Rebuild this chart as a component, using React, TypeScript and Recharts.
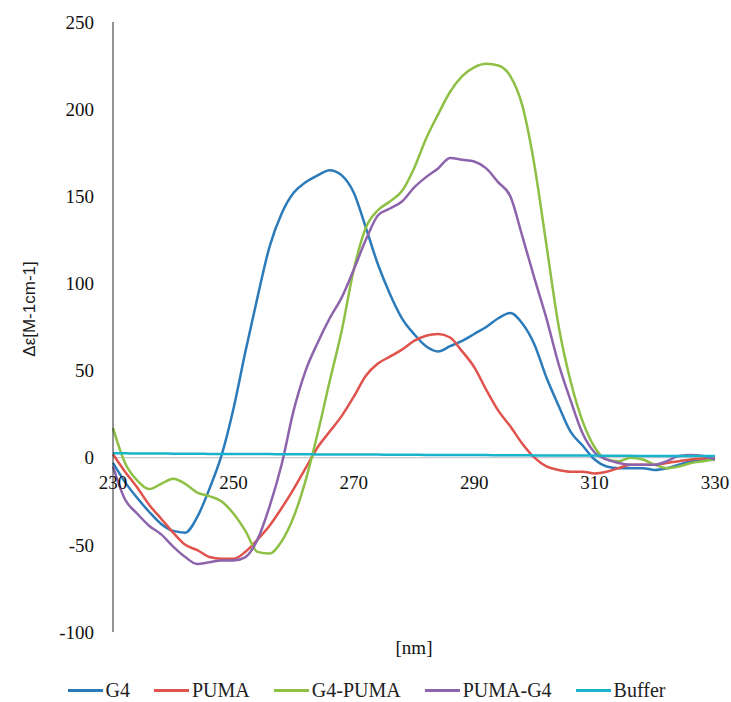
import React from "react";
import { LineChart, Line, XAxis, YAxis, ReferenceLine, Legend } from "recharts";

const wavelengths = [
  230, 232, 234, 236, 238, 240, 242, 244, 246, 248,
  250, 252, 254, 256, 258, 260, 262, 264, 266, 268,
  270, 272, 274, 276, 278, 280, 282, 284, 286, 288,
  290, 292, 294, 296, 298, 300, 302, 304, 306, 308,
  310, 312, 314, 316, 318, 320, 322, 324, 326, 328,
  330,
];

const g4 = [
  -3, -14, -23, -31, -38, -42, -43, -34, -18, 1,
  28, 61, 92, 121, 140, 152, 158, 162, 165, 162,
  152, 132, 111, 94, 80, 71, 64, 61, 64, 67,
  71, 75, 80, 83, 77, 65, 46, 30, 15, 7,
  -1, -5, -6, -6, -6, -7, -6, -4, -2, -1,
  -0.5,
];

const puma = [
  2, -8, -17, -27, -35, -43, -50, -53, -57, -58,
  -58, -54, -47, -39, -29, -18, -6, 6, 15, 24,
  35, 47, 54, 58, 62, 67, 70, 71, 69, 61,
  52, 39, 27, 18, 8, 0, -5, -7, -8, -8,
  -9, -8, -6, -4, -4, -4, -3, -2, -1, -0.5,
  0,
];

const g4Puma = [
  17, -3, -13, -18, -15, -12, -15, -20, -22, -25,
  -32, -42, -54, -55, -48, -34, -13, 14, 44, 73,
  108, 132, 142, 147, 153, 166, 183, 197, 210, 219,
  224, 226, 225, 219, 202, 168, 122, 76, 44, 21,
  6, -1, -2, 0, -1, -4, -6, -5, -3, -2,
  -1,
];

const pumaG4 = [
  -5, -24, -32, -39, -44, -51, -57, -61, -60, -59,
  -59, -57, -47, -28, -4, 27, 50, 66, 80, 92,
  108, 125, 139, 143, 147, 155, 161, 166, 172, 171,
  170, 166, 158, 150, 127, 103, 80, 54, 33, 14,
  3, -1, -3, -4, -4, -4, -2, 1, 1.5, 1,
  -1,
];

const buffer = [
  2.5, 2.5, 2.4, 2.4, 2.4, 2.3, 2.3, 2.3, 2.2, 2.2,
  2.2, 2.1, 2.1, 2.1, 2.0, 2.0, 2.0, 1.9, 1.9, 1.9,
  1.8, 1.8, 1.8, 1.7, 1.7, 1.7, 1.6, 1.6, 1.6, 1.5,
  1.5, 1.5, 1.4, 1.4, 1.4, 1.3, 1.3, 1.3, 1.2, 1.2,
  1.2, 1.1, 1.1, 1.1, 1.0, 1.0, 1.0, 1.0, 1.0, 1.0,
  1.0,
];

const xTicks = [230, 250, 270, 290, 310, 330];
const yTicks = [-100, -50, 0, 50, 100, 150, 200, 250];

const seriesNames = ["G4", "PUMA", "G4-PUMA", "PUMA-G4", "Buffer"];
const seriesColors = ["#2b7bba", "#e0524c", "#8dc044", "#8d64ac", "#1ab3cc"];
const seriesValues = [g4, puma, g4Puma, pumaG4, buffer];

const data = wavelengths.map((nm, i) => {
  const row: Record<string, number> = { nm };
  seriesNames.forEach((name, k) => {
    row[name] = seriesValues[k][i];
  });
  return row;
});

const SERIF = '"Liberation Serif", "Times New Roman", serif';
const SANS = '"Liberation Sans", Arial, sans-serif';

const XTick = (props: any) => {
  const { x, y, payload } = props;
  return (
    <text
      x={x}
      y={y - 150}
      textAnchor="middle"
      dominantBaseline="central"
      fontFamily={SERIF}
      fontSize={19}
      fill="#111"
    >
      {payload.value}
    </text>
  );
};

const YLabel = () => (
  <text
    x={29}
    y={309}
    transform="rotate(-90 29 309)"
    textAnchor="middle"
    dominantBaseline="central"
    fontFamily={SANS}
    fontSize={17}
    fill="#1a1a1a"
  >
    Δε[M-1cm-1]
  </text>
);

const renderLegend = () => (
  <div
    style={{
      width: 731,
      height: 24,
      display: "flex",
      justifyContent: "center",
      alignItems: "center",
      gap: 24,
      paddingLeft: 2,
      boxSizing: "border-box",
      fontFamily: SERIF,
      fontSize: 20,
      color: "#222",
    }}
  >
    {seriesNames.map((name, k) => (
      <div key={name} style={{ display: "flex", alignItems: "center" }}>
        <span
          style={{
            display: "inline-block",
            width: 35,
            height: 3,
            background: seriesColors[k],
            marginRight: 3,
          }}
        />
        <span>{name}</span>
      </div>
    ))}
  </div>
);

export default function App() {
  return (
    <div style={{ width: 731, height: 702, background: "#fff" }}>
      <style>{"body{margin:0;overflow:hidden;background:#fff}"}</style>
      <LineChart
        width={731}
        height={702}
        data={data}
        margin={{ top: 22, right: 16, bottom: 0, left: 0 }}
      >
        <XAxis
          dataKey="nm"
          type="number"
          domain={[230, 330]}
          ticks={xTicks}
          axisLine={false}
          tickLine={false}
          tickSize={0}
          tickMargin={0}
          height={46}
          tick={<XTick />}
          interval={0}
          label={{
            value: "[nm]",
            position: "insideBottom",
            offset: 24,
            fontFamily: SERIF,
            fontSize: 19,
            fill: "#111",
          }}
        />
        <YAxis
          type="number"
          domain={[-100, 250]}
          ticks={yTicks}
          width={113}
          tickLine={false}
          tickSize={6}
          tickMargin={13}
          axisLine={{ stroke: "#262626", strokeWidth: 1 }}
          tick={{ fontFamily: SERIF, fontSize: 19, fill: "#111" }}
          interval={0}
          label={<YLabel />}
        />
        <ReferenceLine y={0} stroke="#bfbfbf" strokeWidth={1} />
        {seriesNames.map((name, k) => (
          <Line
            key={name}
            type="monotone"
            dataKey={name}
            stroke={seriesColors[k]}
            strokeWidth={2.5}
            dot={false}
            isAnimationActive={false}
          />
        ))}
        <Legend verticalAlign="bottom" content={renderLegend} />
      </LineChart>
    </div>
  );
}
